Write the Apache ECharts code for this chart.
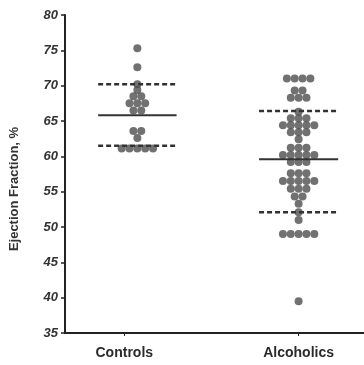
<!DOCTYPE html>
<html><head><meta charset="utf-8">
<script src="https://cdn.jsdelivr.net/npm/echarts@6/dist/echarts.min.js"></script>
<style>html,body{margin:0;padding:0;background:#fff}#c{width:364px;height:365px}</style>
</head><body><div id="c"></div>
<script>
// Category labels and positions
const categories = ['Controls', 'Alcoholics'];
const categoryPos = [1, 2];
// Group column centers (controls points are drawn slightly right of the tick)
const groupCenter = [1.075, 2.0];
// Ejection fraction values (%) with horizontal jitter offsets (in dot widths)
const controlsValues = [75.3, 72.6, 70.2, 69.4, 68.5, 68.5, 67.5, 67.5, 67.5, 66.5, 66.5, 63.6, 63.6, 62.6, 61.1, 61.1, 61.1, 61.1, 61.1];
const controlsJitter = [0, 0, 0, 0, -0.5, 0.5, -1, 0, 1, -0.5, 0.5, -0.5, 0.5, 0, -2, -1, 0, 1, 2];
const alcoholicsValues = [71, 71, 71, 71, 69.3, 69.3, 68.3, 68.3, 68.3, 66.3, 65.4, 65.4, 65.4, 64.4, 64.4, 64.4, 64.4, 64.4, 63.4, 63.4, 63.4, 62.4, 61.2, 61.2, 61.2, 60.2, 60.2, 60.2, 60.2, 60.2, 59.2, 59.2, 59.2, 57.6, 57.6, 57.6, 56.5, 56.5, 56.5, 56.5, 56.5, 55.4, 55.4, 55.4, 54.3, 54.3, 53.3, 52.1, 51, 49, 49, 49, 49, 49, 39.5];
const alcoholicsJitter = [-1.5, -0.5, 0.5, 1.5, -0.5, 0.5, -1, 0, 1, 0, -1, 0, 1, -2, -1, 0, 1, 2, -1, 0, 1, 0, -1, 0, 1, -2, -1, 0, 1, 2, -1, 0, 1, -1, 0, 1, -2, -1, 0, 1, 2, -1, 0, 1, -0.5, 0.5, 0, 0, 0, -2, -1, 0, 1, 2, 0];
// Summary lines: mean and mean ± SD
const controlsMean = 65.8, controlsUpper = 70.2, controlsLower = 61.5;
const alcoholicsMean = 59.6, alcoholicsUpper = 66.4, alcoholicsLower = 52.1;
// Line extents (x units)
const controlsSpan = [0.85, 1.30];
const alcoholicsSpan = [1.773, 2.227];
// Y tick values
const yMin = 35, yMax = 80, yStep = 5;

const dotStep = 0.045;
const pts = (vals, jit, c) => vals.map((v, i) => [c + jit[i] * dotStep, v]);
const seg = (span, v) => [[span[0], v], [span[1], v]];
const INK = '#333';

const solid = {type: 'solid', width: 2, color: INK};
const dashed = {type: [5, 3], width: 2.5, color: INK};
const lineSeries = (data, style) => ({type: 'line', data, symbol: 'none', lineStyle: style, silent: true, z: 3, animation: false});

const chart = echarts.init(document.getElementById('c'));
chart.setOption({
  animation: false,
  grid: {left: 62, top: 15, right: 0, bottom: 32},
  xAxis: {
    type: 'value', min: 0.66, max: 2.375,
    splitLine: {show: false},
    axisLine: {show: true, lineStyle: {color: '#222', width: 2}},
    axisTick: {show: true, customValues: categoryPos, length: 3, lineStyle: {color: '#222'}},
    axisLabel: {
      customValues: categoryPos, margin: 13,
      formatter: v => categories[categoryPos.indexOf(Math.round(v))] || '',
      fontFamily: 'Liberation Sans', fontWeight: 'bold', fontSize: 14, color: '#2a2a2a'
    }
  },
  yAxis: {
    type: 'value', min: yMin, max: yMax, interval: yStep,
    name: 'Ejection Fraction, %', nameLocation: 'middle', nameGap: 44,
    nameTextStyle: {fontFamily: 'Liberation Sans', fontWeight: 'bold', fontSize: 13, color: '#333', padding: [0, 30, 0, 0]},
    splitLine: {show: false},
    axisLine: {show: true, lineStyle: {color: '#222', width: 2}},
    axisTick: {show: true, length: 4, lineStyle: {color: '#222', width: 1.5}},
    axisLabel: {margin: 7, fontFamily: 'Liberation Sans', fontWeight: 'bold', fontStyle: 'italic', fontSize: 13, color: '#333'}
  },
  series: [
    {type: 'scatter', data: pts(controlsValues, controlsJitter, groupCenter[0]), symbolSize: 8, itemStyle: {color: '#4d4d4d'}, z: 2},
    {type: 'scatter', data: pts(alcoholicsValues, alcoholicsJitter, groupCenter[1]), symbolSize: 8, itemStyle: {color: '#4d4d4d'}, z: 2},
    lineSeries(seg(controlsSpan, controlsMean), solid),
    lineSeries(seg(controlsSpan, controlsUpper), dashed),
    lineSeries(seg(controlsSpan, controlsLower), dashed),
    lineSeries(seg(alcoholicsSpan, alcoholicsMean), solid),
    lineSeries(seg(alcoholicsSpan, alcoholicsUpper), dashed),
    lineSeries(seg(alcoholicsSpan, alcoholicsLower), dashed)
  ]
});
</script></body></html>
